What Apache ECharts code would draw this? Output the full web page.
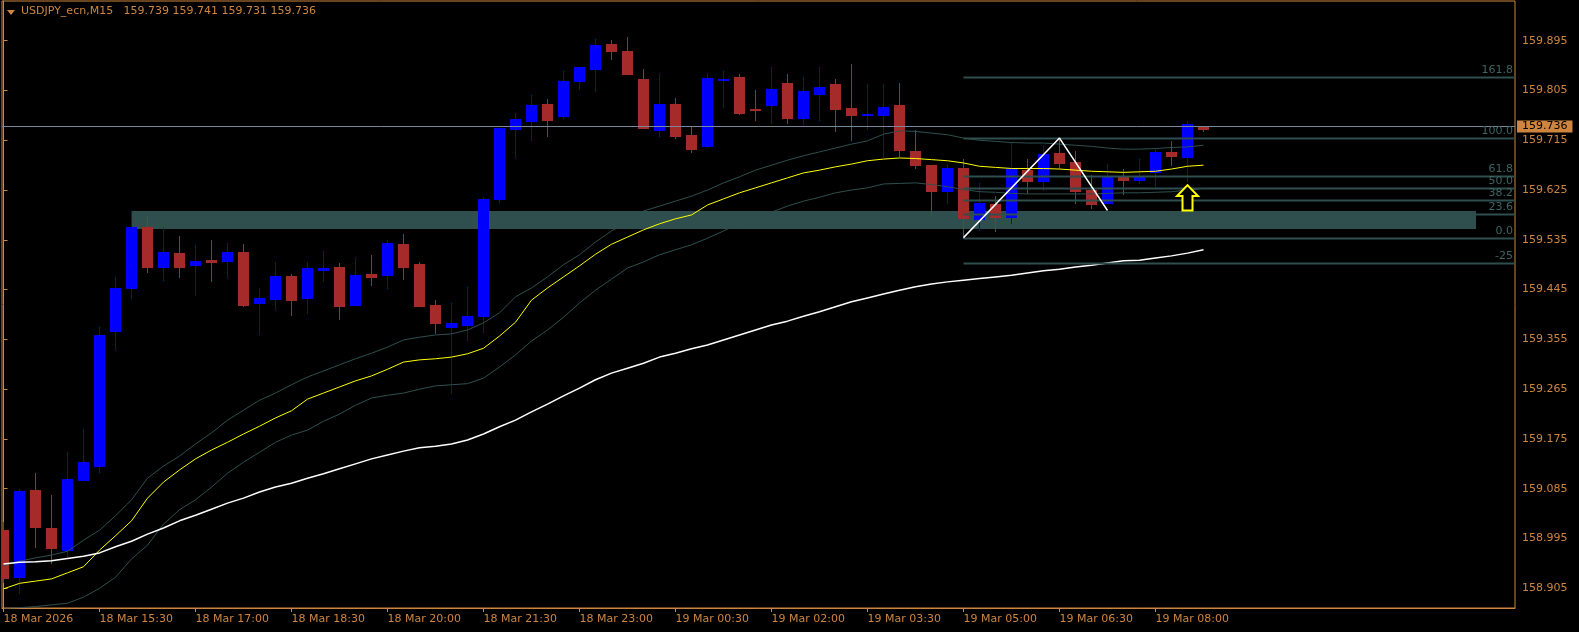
<!DOCTYPE html>
<html><head><meta charset="utf-8">
<script src="https://cdn.jsdelivr.net/npm/echarts@6/dist/echarts.min.js"></script>
<style>html,body{margin:0;padding:0;background:#000;}#c{width:1579px;height:632px;}</style>
</head><body><div id="c"></div>
<script>
// ---- data ----
const symbolName = 'USDJPY_ecn,M15';
const lastOHLC = [159.739, 159.741, 159.731, 159.736];
const opens = [159.010,158.926,159.083,159.014,158.975,159.101,159.127,159.370,159.448,159.558,
159.486,159.511,159.490,159.499,159.497,159.513,159.420,159.428,159.470,159.429,
159.481,159.486,159.418,159.473,159.472,159.527,159.491,159.417,159.377,159.381,
159.398,159.609,159.736,159.750,159.781,159.759,159.822,159.844,159.889,159.876,
159.826,159.734,159.781,159.725,159.705,159.824,159.829,159.772,159.778,159.819,
159.756,159.799,159.817,159.773,159.761,159.761,159.779,159.696,159.670,159.623,
159.665,159.573,159.600,159.577,159.661,159.642,159.692,159.676,159.625,159.602,
159.649,159.644,159.658,159.694,159.685,159.739];
const highs = [159.025,159.084,159.113,159.074,159.151,159.193,159.377,159.467,159.587,159.578,
159.557,159.542,159.526,159.535,159.530,159.527,159.448,159.495,159.473,159.495,
159.515,159.493,159.502,159.508,159.535,159.546,159.495,159.426,159.420,159.450,
159.612,159.738,159.764,159.797,159.790,159.840,159.847,159.898,159.896,159.902,
159.844,159.835,159.791,159.741,159.837,159.840,159.835,159.806,159.847,159.835,
159.829,159.847,159.826,159.852,159.817,159.817,159.819,159.734,159.670,159.673,
159.681,159.638,159.614,159.710,159.681,159.706,159.719,159.696,159.652,159.672,
159.663,159.681,159.699,159.714,159.749,159.741];
const lows = [158.917,158.896,158.980,158.950,158.959,159.100,159.115,159.338,159.430,159.477,
159.462,159.467,159.435,159.461,159.467,159.415,159.365,159.410,159.400,159.403,
159.461,159.392,159.417,159.454,159.448,159.465,159.415,159.367,159.259,159.354,
159.368,159.604,159.685,159.715,159.723,159.756,159.808,159.804,159.862,159.835,
159.737,159.723,159.720,159.694,159.703,159.775,159.763,159.752,159.747,159.747,
159.745,159.752,159.732,159.716,159.736,159.685,159.687,159.665,159.580,159.602,
159.539,159.553,159.551,159.565,159.620,159.626,159.665,159.602,159.593,159.602,
159.618,159.638,159.633,159.671,159.642,159.731];
const closes = [158.924,159.081,159.015,158.977,159.103,159.133,159.363,159.448,159.558,159.485,
159.513,159.486,159.497,159.495,159.513,159.417,159.430,159.470,159.427,159.484,
159.484,159.416,159.471,159.467,159.529,159.485,159.416,159.385,159.385,159.397,
159.609,159.738,159.753,159.779,159.752,159.822,159.847,159.887,159.877,159.835,
159.737,159.781,159.723,159.700,159.828,159.826,159.764,159.770,159.808,159.755,
159.804,159.811,159.772,159.761,159.762,159.775,159.697,159.670,159.623,159.665,
159.575,159.601,159.577,159.663,159.642,159.690,159.674,159.623,159.600,159.648,
159.644,159.649,159.694,159.687,159.745,159.736];
const maYellow = [158.904,158.914,158.918,158.922,158.933,158.944,158.974,159.000,159.027,159.068,
159.097,159.119,159.139,159.155,159.169,159.184,159.198,159.213,159.226,159.247,
159.258,159.269,159.280,159.289,159.301,159.314,159.318,159.320,159.323,159.329,
159.339,159.361,159.386,159.426,159.448,159.468,159.488,159.509,159.527,159.540,
159.553,159.564,159.573,159.580,159.598,159.609,159.620,159.629,159.638,159.647,
159.656,159.661,159.667,159.672,159.678,159.681,159.683,159.682,159.680,159.678,
159.674,159.668,159.666,159.664,159.664,159.664,159.663,159.661,159.659,159.658,
159.657,159.658,159.659,159.663,159.668,159.670];
const envUpper = [158.946,158.954,158.960,158.965,158.972,158.992,159.010,159.036,159.065,159.104,
159.126,159.144,159.166,159.186,159.209,159.227,159.245,159.258,159.273,159.287,
159.298,159.309,159.320,159.330,159.341,159.354,159.359,159.363,159.365,159.372,
159.385,159.403,159.432,159.448,159.468,159.490,159.508,159.531,159.551,159.567,
159.587,159.596,159.605,159.614,159.625,159.638,159.649,159.661,159.670,159.679,
159.687,159.694,159.701,159.708,159.714,159.726,159.732,159.731,159.728,159.725,
159.719,159.715,159.713,159.711,159.710,159.710,159.708,159.706,159.704,159.701,
159.699,159.699,159.700,159.702,159.703,159.706];
const envLower = [158.868,158.870,158.872,158.875,158.878,158.889,158.905,158.925,158.958,158.983,
159.021,159.047,159.065,159.088,159.113,159.133,159.151,159.169,159.182,159.191,
159.207,159.220,159.236,159.249,159.254,159.258,159.265,159.271,159.273,159.275,
159.285,159.305,159.327,159.352,159.372,159.395,159.421,159.444,159.464,159.484,
159.495,159.508,159.517,159.526,159.538,159.551,159.565,159.574,159.585,159.596,
159.605,159.612,159.620,159.625,159.629,159.636,159.637,159.638,159.635,159.631,
159.626,159.622,159.621,159.619,159.618,159.618,159.618,159.618,159.618,159.619,
159.620,159.620,159.621,159.622,159.625,159.628];
const maWhite = [158.949,158.952,158.953,158.955,158.959,158.963,158.969,158.980,158.990,159.003,
159.014,159.027,159.037,159.048,159.059,159.068,159.079,159.088,159.095,159.104,
159.112,159.121,159.130,159.139,159.146,159.153,159.159,159.162,159.166,159.173,
159.184,159.197,159.209,159.224,159.238,159.253,159.267,159.282,159.294,159.303,
159.312,159.323,159.330,159.338,159.345,159.354,159.363,159.372,159.381,159.388,
159.397,159.405,159.414,159.423,159.430,159.437,159.444,159.450,159.455,159.459,
159.462,159.465,159.468,159.471,159.475,159.479,159.482,159.486,159.489,159.493,
159.497,159.498,159.502,159.506,159.511,159.517];
const tickBars = [0,6,12,18,24,30,36,42,48,54,60,66,72];
const tickLabels = ['18 Mar 2026','18 Mar 15:30','18 Mar 17:00','18 Mar 18:30','18 Mar 20:00','18 Mar 21:30','18 Mar 23:00','19 Mar 00:30','19 Mar 02:00','19 Mar 03:30','19 Mar 05:00','19 Mar 06:30','19 Mar 08:00'];
const priceTicks = [158.905,158.995,159.085,159.175,159.265,159.355,159.445,159.535,159.625,159.715,159.805,159.895];
const bidPrice = 159.736;
const fibStartBar = 60;
const fibLow = 159.539;
const fibHigh = 159.719;
const fibLevels = [161.8,100.0,61.8,50.0,38.2,23.6,0.0,-25];
const fibLabels = ['161.8','100.0','61.8','50.0','38.2','23.6','0.0','-25'];
const zoneBars = [8, 92];
const zonePrices = [159.587, 159.5546];
const zigzagPoints = [[60,159.539],[66,159.719],[69,159.588]];
const arrowPoint = [74, 159.634, 159.588];

// ---- chart ----
const FG = '#CD853F';
const FONT = 'DejaVu Sans';
const chart = echarts.init(document.getElementById('c'), null, {renderer:'canvas'});
const candleData = opens.map((o,i)=>[i,o,highs[i],lows[i],closes[i]]);
const toXY = arr => arr.map((v,i)=>[i,v]);

function renderCandle(params, api){
  const i=api.value(0), o=api.value(1), h=api.value(2), l=api.value(3), c=api.value(4);
  const pO=api.coord([i,o]), pC=api.coord([i,c]), pH=api.coord([i,h]), pL=api.coord([i,l]);
  const cx=pO[0];
  const col = c>=o ? '#0000FF' : '#A52A2A';
  const yT=Math.round(Math.min(pO[1],pC[1])), yB=Math.round(Math.max(pO[1],pC[1]));
  const hy=Math.round(pH[1]), ly=Math.round(pL[1]);
  return {type:'group', children:[
    {type:'rect', shape:{x:Math.floor(cx), y:hy, width:1, height:Math.max(1,ly-hy+1)}, style:{fill:col}},
    {type:'rect', shape:{x:Math.round(cx-5.5), y:yT, width:11, height:Math.max(1,yB-yT+1)}, style:{fill:col}}
  ]};
}
function renderZone(params, api){
  const a=api.coord([api.value(0), api.value(2)]), b=api.coord([api.value(1), api.value(3)]);
  return {type:'rect', shape:{x:Math.round(a[0]), y:Math.round(a[1]), width:Math.round(b[0]-a[0]), height:Math.round(b[1]-a[1])}, style:{fill:'#2F4F4F'}};
}
function renderFib(params, api){
  const p=api.coord([fibStartBar, api.value(1)]);
  const cs=params.coordSys;
  const right=cs.x+cs.width;
  const y=Math.round(p[1])+0.5;
  return {type:'group', children:[
    {type:'line', shape:{x1:p[0], y1:y, x2:right, y2:y}, style:{stroke:'#2F4F4F', lineWidth:2}},
    {type:'text', x:right-2, y:y-2, style:{text:fibLabels[params.dataIndex], fill:'#3F6464', font:'11px "DejaVu Sans"', align:'right', verticalAlign:'bottom'}}
  ]};
}
function renderArrow(params, api){
  const t=api.coord([api.value(0), api.value(1)]), b=api.coord([api.value(0), api.value(2)]);
  const cx=t[0], ty=t[1], by=b[1];
  const hw=10.5, sw=5, hh=11;
  return {type:'polygon', shape:{points:[[cx,ty],[cx+hw,ty+hh],[cx+sw,ty+hh],[cx+sw,by],[cx-sw,by],[cx-sw,ty+hh],[cx-hw,ty+hh]]},
    style:{fill:'#000', stroke:'#FFFF00', lineWidth:2, lineJoin:'miter'}};
}

const option = {
  backgroundColor:'#000',
  animation:false,
  textStyle:{fontFamily:FONT},
  title:{text:symbolName+'   '+lastOHLC.map(v=>v.toFixed(3)).join(' '), left:21, top:6, padding:0,
    textStyle:{color:FG, fontSize:11, fontWeight:'normal', fontFamily:FONT}},
  graphic:[{type:'polygon', shape:{points:[[7,10],[15,10],[11,15]]}, style:{fill:FG}}],
  grid:{left:2, top:1, right:64, bottom:24, show:true, borderColor:FG, borderWidth:1, backgroundColor:'transparent'},
  xAxis:{type:'value', min:-0.09375, max:94.46875, splitLine:{show:false},
    axisLine:{show:true, lineStyle:{color:FG}},
    axisTick:{show:true, length:4, lineStyle:{color:FG}, customValues:tickBars},
    axisLabel:{show:true, customValues:tickBars, color:FG, fontSize:11, fontFamily:FONT, align:'left', margin:6,
      formatter:v=>{const k=tickBars.indexOf(Math.round(v)); return k>=0?tickLabels[k]:'';}}},
  yAxis:{type:'value', position:'right', min:158.8694, max:159.9668, scale:true, splitLine:{show:false},
    axisLine:{show:true, lineStyle:{color:FG}},
    axisTick:{show:true, length:4, lineStyle:{color:FG}, customValues:priceTicks},
    axisLabel:{show:true, customValues:priceTicks, color:FG, fontSize:11, fontFamily:FONT, margin:7,
      formatter:v=>v.toFixed(3)}},
  series:[
    {type:'custom', name:'zone', z:1, clip:true, renderItem:renderZone, data:[[zoneBars[0], zoneBars[1], zonePrices[0], zonePrices[1]]], encode:{x:[0,1], y:[2,3]}, silent:true},
    {type:'custom', name:'candles', z:2, clip:true, renderItem:renderCandle, data:candleData, encode:{x:0, y:[1,2,3,4]}, silent:true},
    {type:'line', name:'bid', z:3, data:[], silent:true,
      markLine:{silent:true, symbol:['none','none'], animation:false, data:[{yAxis:bidPrice}],
        lineStyle:{color:'#778899', width:1, type:'solid'},
        label:{show:true, position:'end', formatter:bidPrice.toFixed(3), color:'#000', backgroundColor:FG, padding:[1,5,0,5], fontFamily:FONT, fontSize:11, distance:2}}},
    {type:'line', name:'upper', z:4, data:toXY(envUpper), showSymbol:false, clip:true, lineStyle:{color:'#2F4F4F', width:1}, silent:true},
    {type:'line', name:'lower', z:4, data:toXY(envLower), showSymbol:false, clip:true, lineStyle:{color:'#2F4F4F', width:1}, silent:true},
    {type:'line', name:'yellow', z:5, data:toXY(maYellow), showSymbol:false, clip:true, lineStyle:{color:'#FFFF00', width:1}, silent:true},
    {type:'line', name:'white', z:5, data:toXY(maWhite), showSymbol:false, clip:true, lineStyle:{color:'#FFFFFF', width:1.5}, silent:true},
    {type:'custom', name:'fib', z:6, clip:true, renderItem:renderFib, data:fibLevels.map(l=>[l, fibLow+(fibHigh-fibLow)*l/100]), encode:{y:1}, silent:true},
    {type:'line', name:'zigzag', z:7, data:zigzagPoints, showSymbol:false, lineStyle:{color:'#FFFFFF', width:1.5}, silent:true},
    {type:'custom', name:'arrow', z:8, renderItem:renderArrow, data:[arrowPoint], encode:{x:0, y:[1,2]}, silent:true}
  ]
};
chart.setOption(option);
</script></body></html>
